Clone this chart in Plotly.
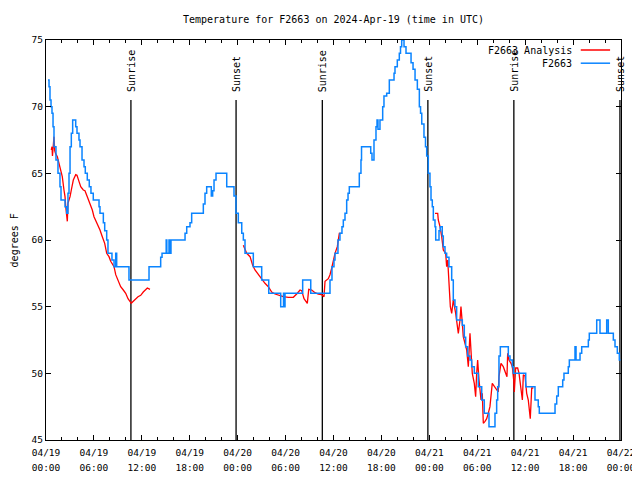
import datetime as dt
import plotly.graph_objects as go

# ---------------- data ----------------
start = dt.datetime(2024, 4, 19, 0, 0)

# Observed station temperature (step data), hours since 04/19 00:00 UTC
obs_hours = [0.25, 0.38, 0.50, 0.63, 0.75, 0.88, 1.00, 1.25, 1.50, 1.75, 1.88, 2.38, 2.59, 2.75, 2.88,
             3.01, 3.17, 3.34, 3.72, 3.88, 4.13, 4.26, 4.51, 4.76, 4.92, 5.17, 5.42, 5.63, 5.92, 6.64,
             6.76, 7.18, 7.35, 7.60, 7.76, 8.26, 8.52, 8.73, 8.85, 10.39, 12.90, 14.36, 14.53, 15.05,
             15.13, 15.40, 15.48, 15.65, 17.41, 17.62, 18.03, 18.24, 19.70, 19.91, 20.12, 20.70, 20.87,
             21.04, 21.29, 22.63, 23.54, 23.79, 24.08, 24.51, 24.71, 24.92, 25.96, 27.01, 27.89, 29.39,
             29.74, 29.83, 29.93, 32.14, 33.15, 35.56, 35.81, 36.06, 36.19, 36.56, 36.81, 37.06, 37.23,
             37.44, 37.65, 37.82, 37.98, 39.23, 39.44, 39.51, 40.66, 40.82, 41.07, 41.32, 41.45, 41.57,
             41.82, 42.16, 42.32, 42.66, 42.99, 43.58, 43.70, 43.99, 44.24, 44.39, 44.54, 44.83, 45.08,
             45.71, 45.96, 46.21, 46.50, 46.75, 46.90, 47.05, 47.33, 47.52, 47.67, 47.87, 48.08, 48.21,
             48.37, 48.50, 48.71, 48.80, 49.21, 49.37, 49.62, 49.75, 49.96, 50.17, 50.46, 50.80, 51.00,
             51.21, 51.42, 52.13, 52.38, 52.55, 52.80, 53.09, 53.30, 53.63, 54.13, 54.56, 54.88, 55.47,
             56.22, 56.43, 56.56, 56.72, 56.89, 57.89, 58.10, 58.39, 58.51, 60.07, 61.23, 61.64, 61.77,
             63.74, 63.95, 64.15, 64.70, 64.86, 65.40, 65.53, 66.24, 66.37, 66.87, 67.08, 67.91, 68.03,
             68.96, 69.37, 70.21, 70.41, 71.04, 71.25, 71.54, 71.79, 71.94]
obs_temps = [72, 71.5, 70.5, 70, 69.5, 68.5, 67, 66, 65, 64, 63, 62.5, 62, 63.5, 65,
             67, 68, 69, 68.5, 68, 67.5, 67, 66, 65.5, 65, 64.5, 64, 63.5, 63, 62.5,
             62, 61.3, 60.7, 60, 59, 58.5, 58, 59, 58, 57, 58, 58.7, 59, 60,
             59, 60, 59, 60, 60.5, 61, 61.3, 62, 62.7, 63.5, 64, 63.3, 63.7,
             64.5, 65, 64, 63.3, 62, 61.3, 60.5, 60, 59, 58, 57, 56, 55,
             56, 55, 56, 57, 56, 57, 58, 58.5, 59, 60, 60.5, 61, 61.5,
             62, 63, 63.5, 64, 65, 66, 67, 66.5, 66, 67.5, 68.5, 69, 68.3,
             69, 70, 70.8, 71, 72, 72.5, 73, 73.5, 74, 74.5, 75, 74.5, 74,
             73.3, 72.8, 72, 71.3, 70, 69.5, 68.7, 67.7, 67, 66.3, 65, 64, 63,
             62.5, 61.5, 61, 60, 60.7, 61, 60.3, 59.5, 59, 58.7, 58, 57, 55.5,
             55, 54, 53.6, 52.7, 52, 51.3, 51, 50.5, 50, 49, 48, 47, 46,
             47, 48, 49, 51.3, 52, 51.3, 51, 50.5, 50, 49, 48, 47.5, 47,
             47.7, 48.3, 49, 49.5, 50, 50.5, 51, 52, 51, 51.5, 52, 52.5, 53,
             54, 53, 54, 53, 52.5, 52, 51.5, 51, 51]

# Analysis temperature, three separate segments
ana1_hours = [0.66, 0.75, 0.81, 0.91, 1.00, 1.09, 1.19, 1.42, 1.63, 2.04, 2.25, 2.38, 2.47, 2.59, 2.67,
              2.75, 3.01, 3.17, 3.42, 3.72, 3.88, 4.13, 4.35, 4.67, 4.88, 5.17, 5.51, 5.80, 6.01, 6.42,
              6.76, 7.05, 7.35, 7.60, 7.89, 8.10, 8.52, 8.73, 9.02, 9.35, 9.68, 9.98, 10.27, 10.52,
              10.68, 10.93, 11.23, 11.52, 11.86, 12.18, 12.69, 13.02]
ana1_temps = [66.75, 67, 66.3, 67.25, 67.75, 66.7, 66.5, 66.25, 65.75, 64.75, 63.75, 63.25, 62.5, 61.75, 61.4,
              62.75, 63.25, 63.75, 64.5, 64.9, 64.85, 64.4, 64, 63.75, 63.7, 63.25, 62.75, 62.25, 61.75, 61.25,
              60.75, 60.25, 59.75, 59, 58.75, 58.4, 58, 57.4, 57, 56.5, 56.25, 56, 55.6, 55.4,
              55.25, 55.4, 55.6, 55.75, 55.85, 56.1, 56.4, 56.3]
ana2_hours = [24.71, 25.13, 25.55, 25.88, 26.17, 26.58, 27.01, 27.42, 27.84, 28.26, 28.68, 29.30, 29.72,
              30.34, 30.97, 31.39, 31.81, 32.02, 32.31, 32.72, 32.90, 33.27, 33.68, 34.10, 34.52, 34.81,
              34.94, 35.35, 35.56, 35.78, 35.98, 36.19, 36.48, 36.73, 37.03]
ana2_temps = [59.6, 59, 58.75, 58.1, 57.75, 57.4, 57.1, 56.75, 56.5, 56.1, 55.95, 55.8, 55.75,
              55.7, 55.7, 55.95, 56.25, 56.2, 55.6, 55.25, 56.3, 56.25, 56.05, 55.95, 55.9, 55.75,
              56.9, 57.1, 57.4, 57.9, 58.5, 59, 59.5, 60.5, 60.5]
ana3_hours = [48.71, 49.05, 49.12, 49.34, 49.55, 49.75, 50.05, 50.17, 50.30, 50.46, 50.63, 50.80, 51.00,
              51.30, 51.55, 51.63, 51.84, 51.96, 52.13, 52.25, 52.68, 52.88, 53.09, 53.21, 53.38, 53.63,
              53.80, 53.93, 54.05, 54.22, 54.47, 54.63, 54.76, 54.97, 55.18, 55.38, 55.59, 55.88, 56.13,
              56.43, 56.63, 56.72, 56.97, 57.26, 57.56, 57.72, 57.81, 57.98, 58.23, 58.39, 58.56, 58.64,
              58.81, 59.06, 59.23, 59.48, 59.65, 59.77, 59.98, 60.19, 60.39, 60.48, 60.64, 60.82, 61.02]
ana3_temps = [62, 62, 61.5, 61, 60.25, 59.25, 59, 58, 58.5, 56.5, 55, 54.5, 55.5,
              54.5, 53.5, 53, 54, 55, 53.75, 52.75, 51.75, 50.5, 53, 51.5, 50, 49.25,
              48.25, 50, 51, 49.5, 48, 48.5, 46.25, 46.4, 46.6, 47, 47.5, 49.25, 49,
              48.75, 48.6, 49.75, 50.75, 50.5, 50, 49.75, 51.5, 51, 50.75, 50.5, 49.5, 48.6,
              50.4, 50.4, 50, 48.75, 48, 49.9, 49.8, 48.5, 48, 47.5, 46.6, 48.9, 48.9]

# Sunrise / sunset events (UTC)
event_times = ["2024-04-19 10:38", "2024-04-19 23:48", "2024-04-20 10:36",
               "2024-04-20 23:49", "2024-04-21 10:35", "2024-04-21 23:52"]
event_labels = ["Sunrise", "Sunset", "Sunrise", "Sunset", "Sunrise", "Sunset"]

y_ticks = [45, 50, 55, 60, 65, 70, 75]
series_names = ["F2663 Analysis", "F2663"]
series_colors = ["#ff0000", "#0a84ff"]

# ---------------- figure ----------------
def to_time(hours):
    return [start + dt.timedelta(hours=h) for h in hours]

FONT = "DejaVu Sans Mono"
fig = go.Figure()

# event lines
EVENT_TOP = 70.5
for t in event_times:
    fig.add_trace(go.Scatter(x=[t, t], y=[EVENT_TOP, 45], mode="lines",
                             line=dict(color="black", width=1.3),
                             showlegend=False, hoverinfo="skip"))

# analysis (with gaps between segments)
ana_x = to_time(ana1_hours) + [None] + to_time(ana2_hours) + [None] + to_time(ana3_hours)
ana_y = ana1_temps + [None] + ana2_temps + [None] + ana3_temps
fig.add_trace(go.Scatter(x=ana_x, y=ana_y, mode="lines", name=series_names[0],
                         line=dict(color=series_colors[0], width=1.3), showlegend=False,
                         connectgaps=False))

# observed
fig.add_trace(go.Scatter(x=to_time(obs_hours), y=obs_temps, mode="lines", name=series_names[1],
                         line=dict(color=series_colors[1], width=1.5, shape="hv"), showlegend=False))

# invisible helper trace so the second (time-of-day) label row is drawn
fig.add_trace(go.Scatter(x=[start], y=[None], xaxis="x2", mode="lines",
                         showlegend=False, hoverinfo="skip"))

annotations = []
for t, lab in zip(event_times, event_labels):
    annotations.append(dict(x=t, y=EVENT_TOP, xref="x", yref="y", text=lab, showarrow=False,
                            textangle=-90, yanchor="bottom", xanchor="center", yshift=6,
                            font=dict(family=FONT, size=10, color="black")))

# manual gnuplot-style legend (text then sample line)
shapes = []
legend_rows = [0.975, 0.942]
for name, col, yy in zip(series_names, series_colors, legend_rows):
    annotations.append(dict(x=0.919, y=yy, xref="paper", yref="paper", text=name, showarrow=False,
                            xanchor="right", yanchor="middle",
                            font=dict(family=FONT, size=10, color="black")))
    shapes.append(dict(type="line", xref="paper", yref="paper", x0=0.930, x1=0.981, y0=yy, y1=yy,
                       line=dict(color=col, width=1.5)))

annotations.append(dict(x=-0.068, y=0.5, xref="paper", yref="paper", text="degrees F",
                        showarrow=False, textangle=-90, xanchor="left", yanchor="middle",
                        font=dict(family=FONT, size=10, color="black")))

xrange = [start, start + dt.timedelta(hours=72)]
tickfont = dict(family=FONT, size=9.5, color="black")

# page body adds an 8px offset, so the figure is 8px smaller than the window
fig.update_layout(
    width=632, height=472,
    margin=dict(l=38, r=19, t=32, b=40, autoexpand=False),
    paper_bgcolor="white", plot_bgcolor="white",
    title=dict(text="Temperature for F2663 on 2024-Apr-19 (time in UTC)", x=0.5, xref="paper",
               xanchor="center", y=0.975, yanchor="middle",
               font=dict(family=FONT, size=10, color="black")),
    font=dict(family=FONT, size=10, color="black"),
    annotations=annotations, shapes=shapes,
    xaxis=dict(range=xrange, autorange=False, showgrid=False, zeroline=False, automargin=False,
               showline=True, linecolor="black", linewidth=1.3, mirror="ticks",
               ticks="inside", ticklen=5, tickcolor="black",
               dtick=6 * 3600 * 1000, tick0=start, tickformat="%m/%d",
               ticklabelstandoff=3, tickfont=tickfont,
               minor=dict(dtick=2 * 3600 * 1000, ticks="inside", ticklen=3, tickcolor="black")),
    xaxis2=dict(overlaying="x", matches="x", side="bottom", anchor="y", range=xrange,
                autorange=False,
                showgrid=False, zeroline=False, showline=False, ticks="", automargin=False,
                dtick=6 * 3600 * 1000, tick0=start, tickformat="%H:%M",
                ticklabelstandoff=20, tickfont=tickfont),
    yaxis=dict(range=[45, 75], autorange=False, showgrid=False, zeroline=False, automargin=False,
               showline=True, linecolor="black", linewidth=1.3, mirror="ticks",
               ticks="inside", ticklen=5, tickcolor="black",
               tickvals=y_ticks, tickfont=tickfont),
)

fig.write_html("out.html")
